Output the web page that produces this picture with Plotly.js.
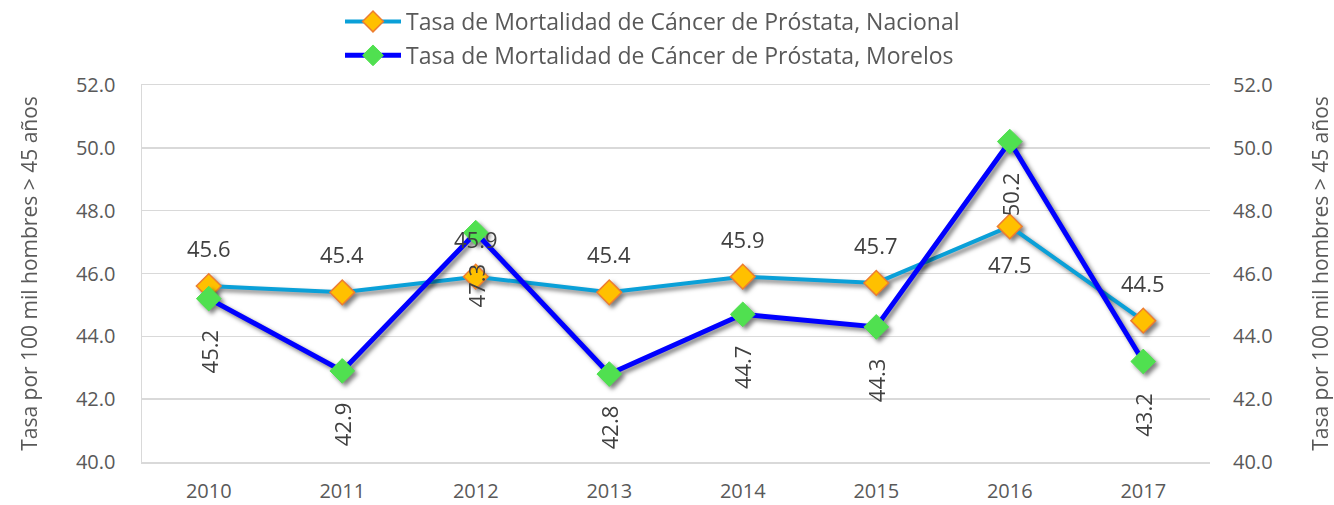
<!DOCTYPE html>
<html>
<head>
<meta charset="utf-8">
<script src="https://cdn.plot.ly/plotly-3.0.1.min.js"></script>
<style>html,body{margin:0;padding:0;background:#fff;}#chart{width:1334px;height:505px;}</style>
</head>
<body>
<div id="chart"></div>
<script>
var years = ['2010','2011','2012','2013','2014','2015','2016','2017'];
var nacional = [45.6, 45.4, 45.9, 45.4, 45.9, 45.7, 47.5, 44.5];
var morelos = [45.2, 42.9, 47.3, 42.8, 44.7, 44.3, 50.2, 43.2];
var nameNacional = 'Tasa de Mortalidad de Cáncer de Próstata, Nacional';
var nameMorelos = 'Tasa de Mortalidad de Cáncer de Próstata, Morelos';
var yTitle = 'Tasa por 100 mil hombres > 45 años';
var nacionalLabelPos = ['above','above','above','above','above','above','below','above'];

var FONT = 'Open Sans, sans-serif';
var traces = [
  {x: years, y: nacional, name: nameNacional, legendgroup: 'a', type: 'scatter', mode: 'lines+markers',
   line: {color: '#0aa0d8', width: 4},
   marker: {symbol: 'diamond', size: 19, color: '#ffc000', line: {color: '#ed7d31', width: 1.5}}},
  {x: years, y: morelos, name: nameMorelos, legendgroup: 'b', type: 'scatter', mode: 'lines+markers',
   line: {color: '#0000ff', width: 5},
   marker: {symbol: 'diamond', size: 19, color: '#50e050', line: {color: '#50e050', width: 1}}},
  {x: years, y: morelos, yaxis: 'y2', type: 'scatter', mode: 'markers', opacity: 0,
   showlegend: false, hoverinfo: 'skip', marker: {size: 1}}
];

var annotations = [];
var labelFont = {family: FONT, size: 22, color: '#404040'};
nacional.forEach(function(v, i){
  annotations.push({x: i, y: v, xref: 'x', yref: 'y', text: v.toFixed(1), showarrow: false,
    font: labelFont, yshift: nacionalLabelPos[i] === 'above' ? 38 : -38});
});
morelos.forEach(function(v, i){
  annotations.push({x: i, y: v, xref: 'x', yref: 'y', text: v.toFixed(1), showarrow: false,
    font: labelFont, textangle: -90, yshift: -53});
});

var tickFont = {family: FONT, size: 20, color: '#595959'};
var titleFont = {family: FONT, size: 21, color: '#595959'};
var layout = {
  width: 1334, height: 505,
  margin: {l: 142, r: 124, t: 85, b: 43},
  paper_bgcolor: '#ffffff', plot_bgcolor: '#ffffff',
  showlegend: true,
  legend: {orientation: 'v', x: 0.478, xanchor: 'center', y: 1.013, yanchor: 'top', yref: 'container',
    itemwidth: 56,
    font: {family: FONT, size: 23, color: '#595959'}, tracegroupgap: 1, bgcolor: 'rgba(0,0,0,0)'},
  xaxis: {type: 'category', range: [-0.5, 7.5], tickfont: tickFont, showgrid: false,
    showline: true, linecolor: '#d9d9d9', linewidth: 1.5, mirror: true, ticks: '', ticklabelstandoff: 10},
  yaxis: {range: [40, 52], dtick: 2, tick0: 40, tickformat: '.1f', tickfont: tickFont,
    gridcolor: '#d9d9d9', gridwidth: 1.5, zeroline: false, showline: true, linecolor: '#d9d9d9', linewidth: 1.5,
    ticks: '', ticklabelstandoff: 21,
    title: {text: yTitle, font: titleFont, standoff: 32}},
  yaxis2: {overlaying: 'y', side: 'right', range: [40, 52], dtick: 2, tick0: 40, tickformat: '.1f', tickfont: tickFont,
    showgrid: false, zeroline: false, showline: false, ticks: '', ticklabelstandoff: 22,
    title: {text: yTitle, font: titleFont, standoff: 45}},
  annotations: annotations
};
Plotly.newPlot('chart', traces, layout, {displayModeBar: false, staticPlot: true}).then(function(gd){
  var ts = gd.querySelectorAll('.scatterlayer .trace');
  ts.forEach(function(t){ t.style.filter = 'drop-shadow(3px 3px 2px rgba(0,0,0,0.5))'; });
});
</script>
</body>
</html>
